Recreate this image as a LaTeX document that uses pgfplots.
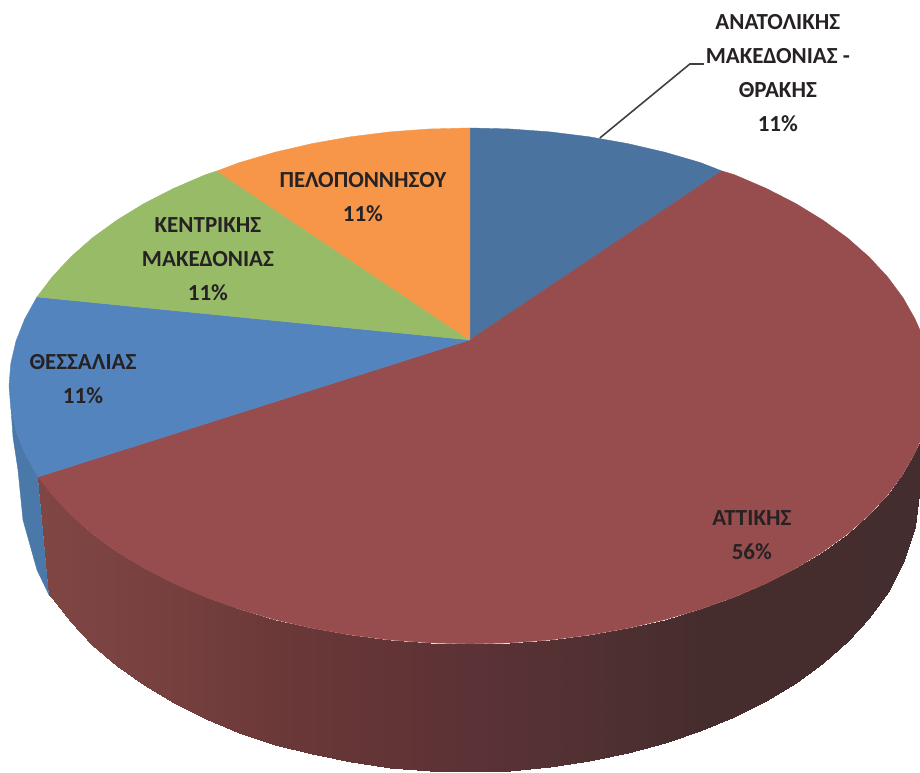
\documentclass[border=0pt]{standalone}
\usepackage{fontspec}
\setmainfont{Carlito}
\usepackage{pgfplots}
\pgfplotsset{compat=1.18}
\definecolor{topblue}{RGB}{74,115,160}
\definecolor{leftblue}{RGB}{84,132,190}
\definecolor{sideblue}{RGB}{74,120,168}
\definecolor{piered}{RGB}{151,77,77}
\definecolor{piegreen}{RGB}{152,187,104}
\definecolor{pieorange}{RGB}{247,150,72}
\definecolor{labeltxt}{RGB}{38,34,36}
\tikzset{
  slice/.style={fill=#1, draw=#1, line width=0.2pt},
  lab/.style={font=\fontsize{11.5}{17}\selectfont\bfseries, text=labeltxt, align=center, inner sep=0pt}
}
\pgfplotsset{
  colormap={side}{rgb255(38)=(128,70,68) rgb255(150)=(120,65,64) rgb255(300)=(105,55,55)
    rgb255(470)=(92,50,54) rgb255(600)=(80,48,50) rgb255(700)=(70,45,45) rgb255(920)=(68,45,47)}
}
\begin{document}
\begin{tikzpicture}
\begin{axis}[scale only axis, width=460pt, height=386.5pt, hide axis,
  xmin=0, xmax=920, ymin=0, ymax=773, y dir=reverse, clip=false]
\addplot[draw=none] coordinates {(0,0)(920,773)};
% left wall under the blue slice
\addplot[slice=sideblue] coordinates {(11,408)(16,430.8)(24.7,452.8)(38,477)(49,595)(37,570)(23,520)(18,470)(13,437)} --cycle;
% side wall of the big slice, strip by strip
\addplot[patch, patch type=rectangle, shader=interp, point meta=x, colormap name=side] coordinates {
(38,477)(52.2,495)(52.2,598)(49,595)
(52.2,495)(70.8,515)(70.8,622.5)(52.2,598)
(70.8,515)(92.3,534)(92.3,645)(70.8,622.5)
(92.3,534)(116.9,551.8)(116.9,666.1)(92.3,645)
(116.9,551.8)(144,568.4)(144,685.4)(116.9,666.1)
(144,568.4)(173.7,583.6)(173.7,703.1)(144,685.4)
(173.7,583.6)(205.6,597.3)(205.6,718.9)(173.7,703.1)
(205.6,597.3)(239.5,609.4)(239.5,732.8)(205.6,718.9)
(239.5,609.4)(275.2,619.8)(275.2,744.7)(239.5,732.8)
(275.2,619.8)(312.3,628.4)(312.3,754.5)(275.2,744.7)
(312.3,628.4)(350.7,635.2)(350.7,762.2)(312.3,754.5)
(350.7,635.2)(390,640.1)(390,767.7)(350.7,762.2)
(390,640.1)(429.8,643)(429.8,771)(390,767.7)
(429.8,643)(470,644)(470,772)(429.8,771)
(470,644)(510.2,643)(510.2,770.7)(470,772)
(510.2,643)(550,640.1)(550,767.3)(510.2,770.7)
(550,640.1)(589.3,635.2)(589.3,761.5)(550,767.3)
(589.3,635.2)(627.7,628.4)(627.7,753.6)(589.3,761.5)
(627.7,628.4)(664.8,619.8)(664.8,743.5)(627.7,753.6)
(664.8,619.8)(700.5,609.4)(700.5,731.3)(664.8,743.5)
(700.5,609.4)(734.4,597.3)(734.4,717)(700.5,731.3)
(734.4,597.3)(766.3,583.6)(766.3,700.9)(734.4,717)
(766.3,583.6)(796,568.4)(796,682.8)(766.3,700.9)
(796,568.4)(823.1,551.8)(823.1,662.9)(796,682.8)
(823.1,551.8)(847.7,534)(847.7,641.2)(823.1,662.9)
(847.7,534)(869.2,515)(869.2,617.7)(847.7,641.2)
(869.2,515)(887.8,495)(887.8,592)(869.2,617.7)
(887.8,495)(903.2,474.2)(903.2,563.3)(887.8,592)
(903.2,474.2)(915.3,452.8)(915.3,527.2)(903.2,563.3)
(915.3,452.8)(920,442)(920,486)(915.3,527.2)
};
% top faces
\addplot[slice=topblue] coordinates {(470,340)(470,128)(510.2,129)(550,131.9)(589.3,136.8)(627.7,143.6)(664.8,152.2)(700.5,162.6)(722,171)} --cycle;
\addplot[slice=piered] coordinates {(470,340)(722,171)(734.4,174.7)(766.3,188.4)(796,203.6)(823.1,220.2)(847.7,238)(869.2,257)(887.8,277)(903.2,297.8)(915.3,319.2)(920,330)
  (920,442)(915.3,452.8)(903.2,474.2)(887.8,495)(869.2,515)(847.7,534)(823.1,551.8)(796,568.4)(766.3,583.6)(734.4,597.3)(700.5,609.4)(664.8,619.8)(627.7,628.4)(589.3,635.2)(550,640.1)(510.2,643)(470,644)
  (429.8,643)(390,640.1)(350.7,635.2)(312.3,628.4)(275.2,619.8)(239.5,609.4)(205.6,597.3)(173.7,583.6)(144,568.4)(116.9,551.8)(92.3,534)(70.8,515)(52.2,495)(38,477)} --cycle;
\addplot[slice=leftblue] coordinates {(470,340)(38,477)(24.7,452.8)(16,430.8)(10.8,408.5)(9,386)(10.8,363.5)(16,341.2)(24.7,319.2)(37,297)} --cycle;
\addplot[slice=piegreen] coordinates {(470,340)(37,297)(52.2,277)(70.8,257)(92.3,238)(116.9,220.2)(144,203.6)(173.7,188.4)(205.6,174.7)(217,171)} --cycle;
\addplot[slice=pieorange] coordinates {(470,340)(217,171)(239.5,162.6)(275.2,152.2)(312.3,143.6)(350.7,136.8)(390,131.9)(429.8,129)(470,128)} --cycle;
% leader line
\addplot[draw=black!75, line width=0.8pt] coordinates {(600,138)(690,64)(704,64)};
% labels
\node[lab] at (axis cs:363,197) {ΠΕΛΟΠΟΝΝΗΣΟΥ\\11\%};
\node[lab] at (axis cs:208,259) {ΚΕΝΤΡΙΚΗΣ\\ΜΑΚΕΔΟΝΙΑΣ\\11\%};
\node[lab] at (axis cs:83,379) {ΘΕΣΣΑΛΙΑΣ\\11\%};
\node[lab] at (axis cs:752,535) {ΑΤΤΙΚΗΣ\\56\%};
\node[lab] at (axis cs:778,73) {ΑΝΑΤΟΛΙΚΗΣ\\ΜΑΚΕΔΟΝΙΑΣ -\\ΘΡΑΚΗΣ\\11\%};
\end{axis}
\end{tikzpicture}
\end{document}
